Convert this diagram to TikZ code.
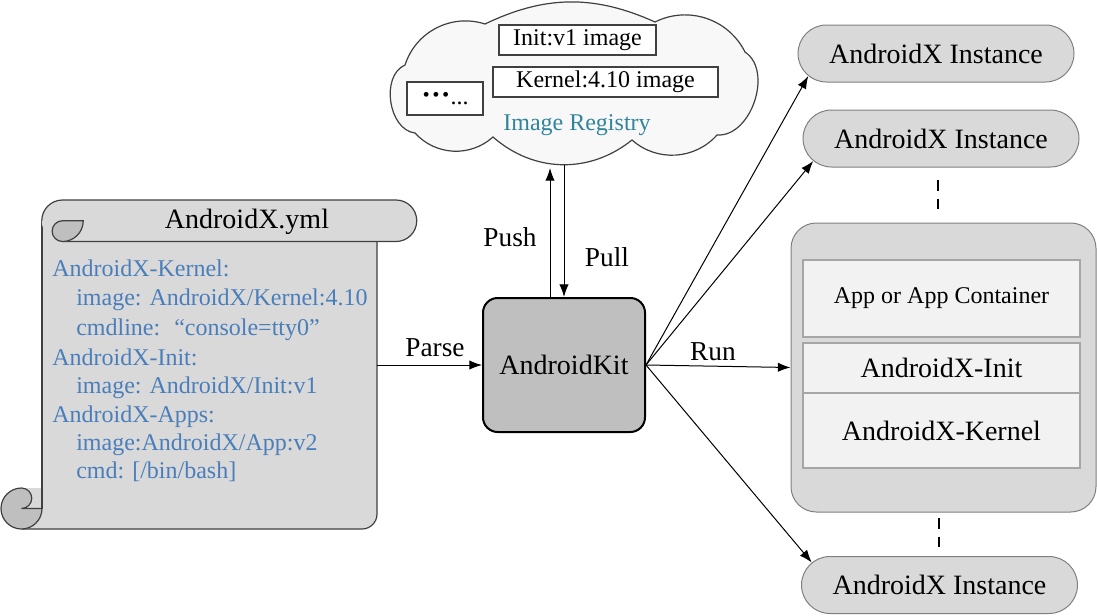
\documentclass[tikz,border=0pt]{standalone}
\usepackage{fontspec}
\setmainfont{Liberation Serif}
\usetikzlibrary{arrows.meta,shapes.misc,calc}
\definecolor{scrollgray}{HTML}{D9D9D9}
\definecolor{darkcurl}{HTML}{BFBFBF}
\definecolor{kitgray}{HTML}{BFBFBF}
\definecolor{yblue}{HTML}{4A7EBB}
\definecolor{regteal}{HTML}{31849B}
\definecolor{edgegray}{HTML}{404040}
\definecolor{pillgray}{HTML}{D9D9D9}
\definecolor{pilledge}{HTML}{808080}
\definecolor{innerfill}{HTML}{F2F2F2}
\definecolor{inneredge}{HTML}{A6A6A6}
\definecolor{cloudfill}{HTML}{F8F8F8}
\begin{document}
\begin{tikzpicture}[x=0.75pt,y=-0.75pt,
  arr/.style={-{Latex[length=9.5pt,width=7pt]}, line width=0.75pt},
  big/.style={font=\fontsize{21}{25}\selectfont},
  mid/.style={font=\fontsize{18}{21}\selectfont},
  lbl/.style={font=\fontsize{20.5}{24}\selectfont},
  yml/.style={anchor=base west, text=yblue, font=\fontsize{18}{21}\selectfont, inner sep=0pt},
  pill/.style={rounded rectangle, draw=pilledge, fill=pillgray, line width=0.75pt, minimum width=207pt, minimum height=42.75pt, inner sep=0pt, big},
  innerbox/.style={draw=inneredge, fill=innerfill, line width=1.5pt, minimum width=207.75pt, inner sep=0pt},
  cbox/.style={draw=edgegray, fill=white, line width=0.9pt, inner sep=0pt, mid},
  scrolledge/.style={draw=edgegray, line width=0.9pt},
  dashline/.style={line width=1.2pt, dash pattern=on 8pt off 6pt}
]
\useasboundingbox (0,0) rectangle (1097,615);

% ---------- scroll ----------
\fill[scrollgray] (42,221) -- (377,221) -- (377,514) arc[start angle=0,end angle=90,radius=15] -- (21.5,529) -- (21.5,488) -- (42,488) -- cycle;
\draw[scrolledge] (42,221) -- (42,508.5);
\draw[scrolledge] (377,241.5) -- (377,514) arc[start angle=0,end angle=90,radius=15] -- (21.5,529);
\fill[scrollgray] (62.5,200) -- (396,200) arc[start angle=-90,end angle=90,radius=20.75] -- (62.5,241.5) arc[start angle=90,end angle=270,radius=20.75] -- cycle;
\draw[scrolledge] (41.75,220.75) arc[start angle=180,end angle=270,radius=20.75] -- (396,200) arc[start angle=-90,end angle=90,radius=20.75] -- (62.5,241.5);
\draw[scrolledge, fill=darkcurl] (62.5,220.75) -- (83.25,220.75) arc[start angle=0,end angle=90,radius=20.75] arc[start angle=90,end angle=270,radius=10.375] -- cycle;
\draw[scrolledge, fill=darkcurl] (21.5,508.5) -- (42,508.5) arc[start angle=0,end angle=270,radius=20.5] arc[start angle=-90,end angle=90,radius=10.25] -- cycle;
\node[inner sep=0pt, minimum width=251.25pt, minimum height=231pt] (scroll) at (209.5,375) {};
\node[big] (ymltitle) at (247,222) {AndroidX.yml};
\node[yml] (k1) at (52,276) {AndroidX-Kernel:};
\node[yml] (k2) at (76,305) {image: AndroidX/Kernel:4.10};
\node[yml] (k3) at (76,335) {cmdline: \ “console=tty0”};
\node[yml] (i1) at (52,365) {AndroidX-Init:};
\node[yml] (i2) at (76,393) {image: AndroidX/Init:v1};
\node[yml] (a1) at (52,422) {AndroidX-Apps:};
\node[yml] (a2) at (76,450) {image:AndroidX/App:v2};
\node[yml] (a3) at (76,478) {cmd: [/bin/bash]};

% ---------- cloud ----------
\draw[draw=edgegray, fill=cloudfill, line width=0.9pt] (405,65) to[bend left=45] (485,24) to[bend left=25] (655,22) to[bend left=45] (745,52) to[bend left=75] (717,135) to[bend left=45] (632,140) to[bend left=40] (493,137) to[bend left=45] (415,133) to[bend left=75] cycle;
\node[cbox, minimum width=117.75pt, minimum height=22.5pt] (initimg) at (577.5,40) {Init:v1 image};
\node[cbox, minimum width=168.75pt, minimum height=22.5pt] (kernimg) at (605.5,82) {Kernel:4.10 image};
\node[cbox, minimum width=57pt, minimum height=24.75pt] (moreimg) at (445,98.5) {{\bfseries\fontsize{22}{22}\selectfont ···}...};
\node[mid, text=regteal] (reg) at (577,125) {Image Registry};

% ---------- AndroidKit ----------
\node[draw, fill=kitgray, line width=1.5pt, rounded corners=11pt, minimum width=121.5pt, minimum height=100.5pt, big] (kit) at (564,365) {AndroidKit};
\coordinate (pushtop) at (550,168);
\coordinate (pulltop) at (564,165);
\draw[arr] ($(kit.north)+(-14,0)$) -- (pushtop);
\draw[arr] (pulltop) -- (kit.north);
\draw[arr] (scroll.east |- kit.west) -- (kit.west);
\node[lbl] (push) at (510,237) {Push};
\node[lbl] (pull) at (607,257) {Pull};
\node[lbl] (parse) at (435,348) {Parse};
\node[lbl] (run) at (713,352) {Run};

% ---------- right side ----------
\node[pill] (inst1) at (936,53.5) {AndroidX Instance};
\node[pill] (inst2) at (941,138.5) {AndroidX Instance};
\node[pill] (inst4) at (939.5,585) {AndroidX Instance};
\node[draw=pilledge, fill=pillgray, line width=0.75pt, rounded corners=19pt, minimum width=228.75pt, minimum height=216.75pt] (cont) at (943.5,367.5) {};
\node[innerbox, minimum height=57.75pt, mid] (appbox) at (941.5,298.5) {App or App Container};
\node[innerbox, minimum height=37.5pt, big] (initbox) at (941.5,368) {AndroidX-Init};
\node[innerbox, minimum height=56.25pt, big] (kernbox) at (941.5,430.5) {AndroidX-Kernel};

\draw[arr] (kit.east) -- (cont.west);
\draw[arr] (kit.east) -- (inst1.190.3);
\draw[arr] (kit.east) -- (inst2.190.5);
\draw[arr] (kit.east) -- (inst4.170.6);

\coordinate (da1) at (938,180);
\coordinate (da2) at (938,210);
\coordinate (db1) at (939,518);
\coordinate (db2) at (939,548);
\draw[dashline] (da1) -- (da2);
\draw[dashline] (db1) -- (db2);
\end{tikzpicture}
\end{document}
